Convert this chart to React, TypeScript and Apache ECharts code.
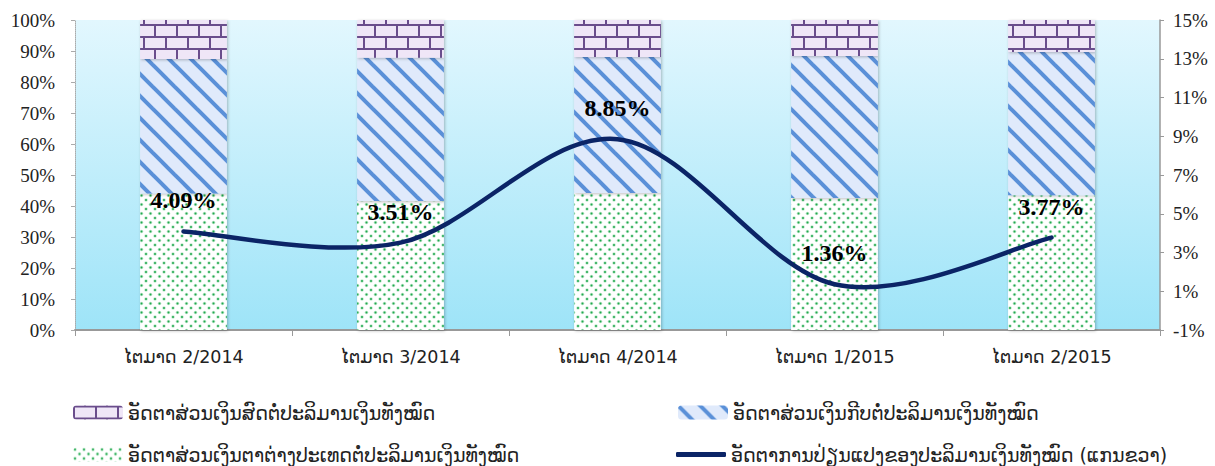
import React, { useEffect, useRef } from "react";
import * as echarts from "echarts";

const categories = ["ໄຕມາດ 2/2014", "ໄຕມາດ 3/2014", "ໄຕມາດ 4/2014", "ໄຕມາດ 1/2015", "ໄຕມາດ 2/2015"];
const foreignShare = [44.0, 41.6, 44.2, 42.6, 43.5];
const kipShare = [43.4, 46.2, 43.9, 45.8, 46.2];
const cashShare = [12.6, 12.2, 11.9, 11.6, 10.3];
const growthRate = [4.09, 3.51, 8.85, 1.36, 3.77];
const rightTicks = [-1, 1, 3, 5, 7, 9, 11, 13, 15];

const nameCash = "ອັດຕາສ່ວນເງິນສົດຕໍ່ປະລິມານເງິນທັງໝົດ";
const nameKip = "ອັດຕາສ່ວນເງິນກີບຕໍ່ປະລິມານເງິນທັງໝົດ";
const nameForeign = "ອັດຕາສ່ວນເງິນຕາຕ່າງປະເທດຕໍ່ປະລິມານເງິນທັງໝົດ";
const nameGrowth = "ອັດຕາການປ່ຽນແປງຂອງປະລິມານເງິນທັງໝົດ (ແກນຂວາ)";

const laoFont = '"DejaVu Sans", "Noto Sans", sans-serif';
const serifFont = '"Liberation Serif", "DejaVu Serif", serif';
const lineColor = "#0b2466";

function makeCanvas(w: number, h: number) {
  const c = document.createElement("canvas");
  c.width = w;
  c.height = h;
  return c;
}

function dotsPattern() {
  const c = makeCanvas(9, 9);
  const ctx = c.getContext("2d")!;
  ctx.fillStyle = "#ffffff";
  ctx.fillRect(0, 0, 9, 9);
  const pts = [
    [2, 2],
    [6.5, 6.5],
  ];
  for (const [x, y] of pts) {
    ctx.fillStyle = "rgba(60,190,100,0.35)";
    ctx.beginPath();
    ctx.arc(x, y, 1.8, 0, Math.PI * 2);
    ctx.fill();
    ctx.fillStyle = "#23a84f";
    ctx.beginPath();
    ctx.arc(x, y, 1.0, 0, Math.PI * 2);
    ctx.fill();
  }
  return c;
}

function stripePattern() {
  const s = 22;
  const c = makeCanvas(s, s);
  const ctx = c.getContext("2d")!;
  ctx.fillStyle = "#e0eafb";
  ctx.fillRect(0, 0, s, s);
  ctx.strokeStyle = "#5a90d8";
  ctx.lineWidth = 4;
  for (const k of [-1, 0, 1]) {
    ctx.beginPath();
    ctx.moveTo(k * s - 2, -2);
    ctx.lineTo(k * s + s + 2, s + 2);
    ctx.stroke();
  }
  return c;
}

function brickPattern() {
  const w = 22;
  const h = 24;
  const c = makeCanvas(w, h);
  const ctx = c.getContext("2d")!;
  ctx.fillStyle = "#efe6f7";
  ctx.fillRect(0, 0, w, h);
  ctx.fillStyle = "#6a4d8c";
  ctx.fillRect(0, 0, w, 2);
  ctx.fillRect(0, 12, w, 2);
  ctx.fillRect(0, 0, 2, 12);
  ctx.fillRect(11, 12, 2, 12);
  return c;
}

// Catmull-Rom style smoothing (like spreadsheet smoothed lines) on points mapped through the axes
function smoothPath(pts: number[][]) {
  let d = `M${pts[0][0]},${pts[0][1]}`;
  for (let i = 0; i < pts.length - 1; i++) {
    const p0 = pts[Math.max(0, i - 1)];
    const p1 = pts[i];
    const p2 = pts[i + 1];
    const p3 = pts[Math.min(pts.length - 1, i + 2)];
    const c1x = p1[0] + (p2[0] - p0[0]) / 6;
    const c1y = p1[1] + (p2[1] - p0[1]) / 6;
    const c2x = p2[0] - (p3[0] - p1[0]) / 6;
    const c2y = p2[1] - (p3[1] - p1[1]) / 6;
    d += ` C${c1x},${c1y} ${c2x},${c2y} ${p2[0]},${p2[1]}`;
  }
  return d;
}

export default function App() {
  const ref = useRef<HTMLDivElement>(null);
  useEffect(() => {
    document.body.style.margin = "0";
    if (!ref.current) return;
    const chart = echarts.init(ref.current, undefined, { renderer: "svg" });
    const shadow = {
      shadowColor: "rgba(0,0,0,0.25)",
      shadowBlur: 3,
      shadowOffsetX: 1,
      shadowOffsetY: 1,
    };
    const legendText = { fontFamily: laoFont, fontSize: 19, color: "#222" };
    const legendBase = { padding: 0, itemWidth: 50, itemHeight: 14, itemGap: 0, textStyle: legendText };
    chart.setOption({
      animation: false,
      grid: {
        left: 75,
        right: 55,
        top: 20,
        bottom: 136,
        show: true,
        borderWidth: 0,
        backgroundColor: new echarts.graphic.LinearGradient(0, 0, 0, 1, [
          { offset: 0, color: "#e2f7fe" },
          { offset: 1, color: "#9ee4f8" },
        ]),
      },
      legend: [
        { ...legendBase, left: 73, top: 403, data: [nameCash] },
        { ...legendBase, left: 73, top: 445, data: [nameForeign] },
        { ...legendBase, left: 678, top: 403, data: [nameKip] },
        {
          ...legendBase,
          left: 676,
          top: 445,
          itemHeight: 5,
          data: [{ name: nameGrowth, icon: "roundRect" }],
        },
      ],
      xAxis: {
        type: "category",
        data: categories,
        axisLine: { show: true, lineStyle: { color: "#999", width: 2 } },
        axisTick: { show: true, length: 6, lineStyle: { color: "#999" } },
        axisLabel: { margin: 18, fontFamily: laoFont, fontSize: 17.5, color: "#222" },
        splitLine: { show: false },
      },
      yAxis: [
        {
          type: "value",
          min: 0,
          max: 100,
          interval: 10,
          axisLine: { show: true, lineStyle: { color: "#aaa", type: "dotted", width: 1 } },
          axisTick: { show: true, length: 4, lineStyle: { color: "#aaa" } },
          axisLabel: { formatter: "{value}%", margin: 20, fontFamily: serifFont, fontSize: 19, color: "#222" },
          splitLine: { show: false },
        },
        {
          type: "value",
          min: -1,
          max: 15,
          position: "right",
          axisLine: { show: true, lineStyle: { color: "#999", width: 1.5 } },
          axisTick: { show: true, length: 4, customValues: rightTicks, lineStyle: { color: "#999" } },
          axisLabel: {
            customValues: rightTicks,
            formatter: "{value}%",
            margin: 13,
            fontFamily: serifFont,
            fontSize: 19,
            color: "#222",
          },
          splitLine: { show: false },
        },
      ],
      series: [
        {
          name: nameForeign,
          type: "bar",
          stack: "share",
          barWidth: "40%",
          data: foreignShare,
          itemStyle: { color: { image: dotsPattern(), repeat: "repeat" }, ...shadow },
        },
        {
          name: nameKip,
          type: "bar",
          stack: "share",
          barWidth: "40%",
          data: kipShare,
          itemStyle: { color: { image: stripePattern(), repeat: "repeat" }, ...shadow },
        },
        {
          name: nameCash,
          type: "bar",
          stack: "share",
          barWidth: "40%",
          data: cashShare,
          itemStyle: { color: { image: brickPattern(), repeat: "repeat" }, ...shadow },
        },
        {
          name: nameGrowth,
          type: "custom",
          yAxisIndex: 1,
          z: 5,
          clip: false,
          itemStyle: { color: lineColor },
          data: growthRate.map((v, i) => [i, v]),
          encode: { x: 0, y: 1 },
          renderItem: (params: any, api: any) => {
            const idx = params.dataIndex;
            const pt = api.coord([api.value(0), api.value(1)]);
            const children: any[] = [];
            if (idx === 0) {
              const pts = growthRate.map((v, i) => api.coord([i, v]));
              children.push({
                type: "path",
                shape: { pathData: smoothPath(pts) },
                style: { stroke: lineColor, lineWidth: 4.5, fill: "none", lineCap: "round" },
              });
            }
            children.push({
              type: "text",
              x: pt[0],
              y: pt[1] - 19,
              z2: 10,
              style: {
                text: `${growthRate[idx].toFixed(2)}%`,
                fontFamily: serifFont,
                fontWeight: "bold",
                fontSize: 24,
                fill: "#000",
                align: "center",
                verticalAlign: "bottom",
              },
            });
            return { type: "group", children };
          },
        },
      ],
    });
    return () => chart.dispose();
  }, []);
  return <div ref={ref} style={{ width: 1215, height: 466 }} />;
}
